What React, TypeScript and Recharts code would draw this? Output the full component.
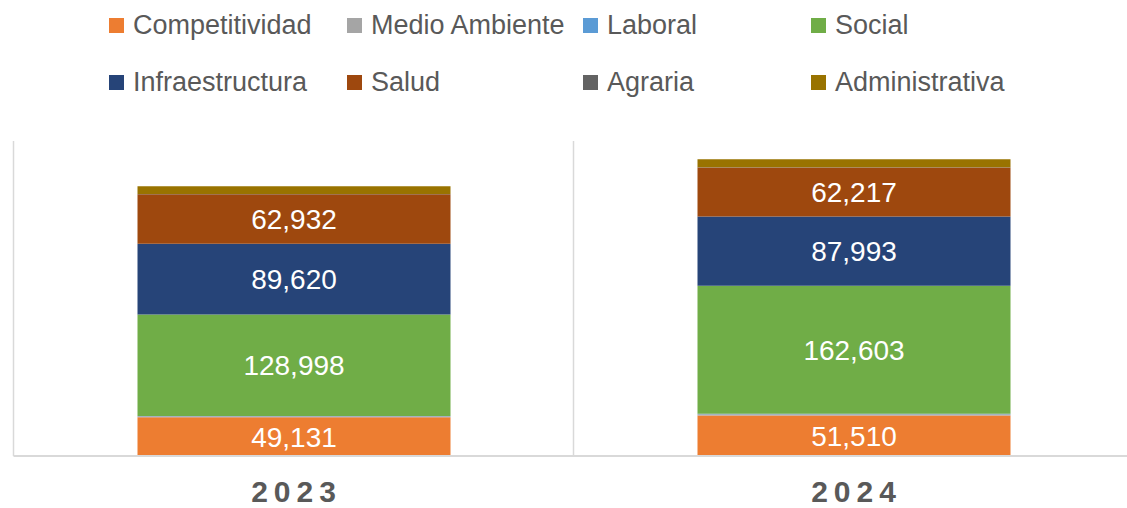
import React from 'react';
import { BarChart, Bar, XAxis, YAxis, CartesianGrid, Legend, LabelList } from 'recharts';

const categories = ['2023', '2024'];
const competitividad = [49131, 51510];
const medioAmbiente = [1300, 1500];
const laboral = [400, 600];
const social = [128998, 162603];
const infraestructura = [89620, 87993];
const salud = [62932, 62217];
const agraria = [300, 400];
const administrativa = [10000, 10000];

const seriesDefs = [
  { key: 'competitividad', name: 'Competitividad', color: '#ED7D31', values: competitividad, label: true },
  { key: 'medioAmbiente', name: 'Medio Ambiente', color: '#A5A5A5', values: medioAmbiente, label: false },
  { key: 'laboral', name: 'Laboral', color: '#5B9BD5', values: laboral, label: false },
  { key: 'social', name: 'Social', color: '#70AD47', values: social, label: true },
  { key: 'infraestructura', name: 'Infraestructura', color: '#264478', values: infraestructura, label: true },
  { key: 'salud', name: 'Salud', color: '#9E480E', values: salud, label: true },
  { key: 'agraria', name: 'Agraria', color: '#636363', values: agraria, label: false },
  { key: 'administrativa', name: 'Administrativa', color: '#997300', values: administrativa, label: false },
];

const data = categories.map((c, i) => {
  const row: any = { year: c };
  seriesDefs.forEach((s) => {
    row[s.key] = s.values[i];
  });
  return row;
});

const FONT = '"Liberation Sans", Arial, sans-serif';
const colLefts = [109, 347, 583, 811];

const LegendContent = () => (
  <div style={{ position: 'relative', width: 1127, height: 110, fontFamily: FONT }}>
    {seriesDefs.map((s, i) => {
      const col = i % 4;
      const row = Math.floor(i / 4);
      return (
        <div
          key={s.key}
          style={{
            position: 'absolute',
            left: colLefts[col],
            top: 10 + row * 57,
            height: 30,
            display: 'flex',
            alignItems: 'center',
            whiteSpace: 'nowrap',
          }}
        >
          <div style={{ width: 15, height: 15, background: s.color, marginRight: 9 }} />
          <span style={{ fontSize: 27, color: '#595959' }}>{s.name}</span>
        </div>
      );
    })}
  </div>
);

const YearTick = (props: any) => {
  const { x, y, payload } = props;
  return (
    <text
      x={x + 3}
      y={y}
      dy={46}
      textAnchor="middle"
      fill="#595959"
      fontSize={30}
      fontWeight="bold"
      fontFamily={FONT}
      letterSpacing={6}
    >
      {payload.value}
    </text>
  );
};

export default function App() {
  return (
    <div style={{ position: 'absolute', left: 0, top: 0, width: 1127, height: 508, overflow: 'hidden', background: '#fff' }}>
      <BarChart
        width={1147}
        height={508}
        data={data}
        margin={{ top: 141, right: 13.5, bottom: 0, left: 13.5 }}
        style={{ fontFamily: FONT }}
      >
        <CartesianGrid
          horizontal={false}
          stroke="#d9d9d9"
          strokeWidth={1.5}
          verticalCoordinatesGenerator={({ offset }: any) =>
            categories.map((_, i) => offset.left + (i * offset.width) / categories.length)
          }
        />
        <XAxis
          dataKey="year"
          axisLine={{ stroke: '#d9d9d9', strokeWidth: 2 }}
          tickLine={false}
          tickSize={0}
          tickMargin={0}
          height={52}
          tick={<YearTick />}
          interval={0}
        />
        <YAxis hide domain={[0, 400000]} />
        <Legend
          layout="horizontal"
          verticalAlign="middle"
          align="center"
          wrapperStyle={{ position: 'absolute', top: 0, left: 0, width: 1127, height: 110 }}
          content={<LegendContent />}
        />
        {seriesDefs.map((s) => (
          <Bar
            key={s.key}
            dataKey={s.key}
            name={s.name}
            stackId="a"
            fill={s.color}
            barSize={313}
            isAnimationActive={false}
          >
            {s.label && (
              <LabelList
                dataKey={s.key}
                position="center"
                fill="#ffffff"
                fontSize={28}
                fontFamily={FONT}
                formatter={(v: any) => Number(v).toLocaleString('en-US')}
              />
            )}
          </Bar>
        ))}
      </BarChart>
    </div>
  );
}
